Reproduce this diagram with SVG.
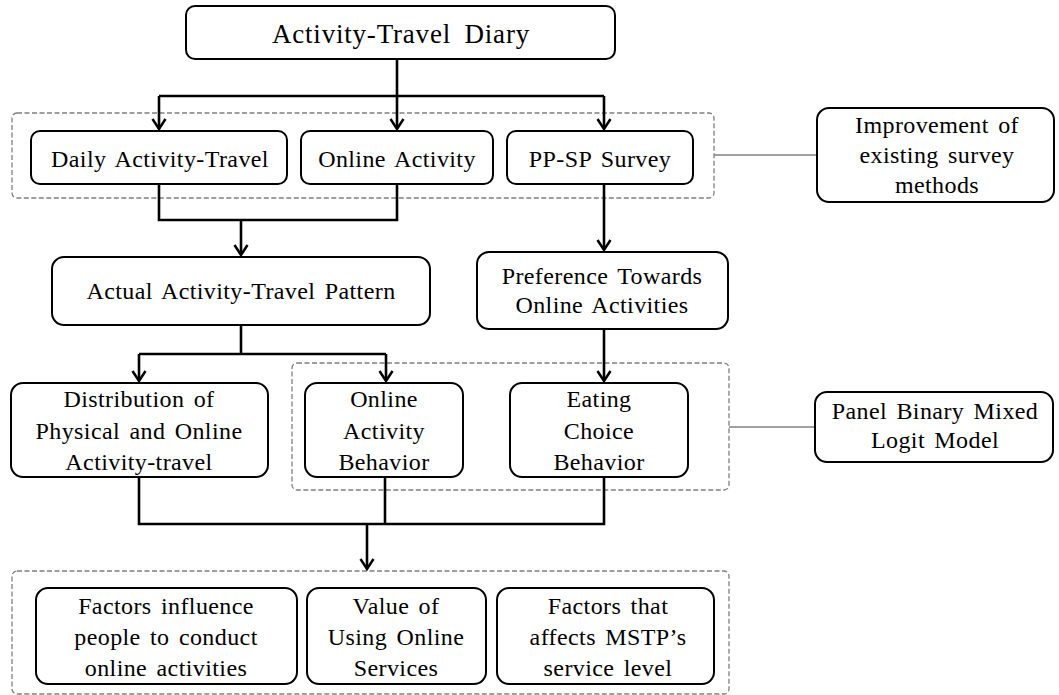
<svg xmlns="http://www.w3.org/2000/svg" width="1059" height="695" viewBox="0 0 1059 695">
  <style>
    .node { fill: #ffffff; stroke: #000000; stroke-width: 2; }
    .group { fill: none; stroke: #808080; stroke-width: 1.3; stroke-dasharray: 5 2.5; }
    .link { fill: none; stroke: #000000; stroke-width: 2.6; stroke-linejoin: miter; }
    .tie { fill: none; stroke: #808080; stroke-width: 1.5; }
    text { font-size: 24px; fill: #000000; text-anchor: middle; word-spacing: 3px; letter-spacing: 0.4px; }
    .title { font-size: 27px; word-spacing: 6px; letter-spacing: 0.8px; }
  </style>
  <defs>
    <marker id="chevron" markerUnits="userSpaceOnUse" markerWidth="20" markerHeight="20" viewBox="-12 -10 14 20" refX="0" refY="0" orient="auto">
      <path d="M-10,-6.5 L0,0 L-10,6.5" fill="none" stroke="#000000" stroke-width="2.5"/>
    </marker>
  </defs>

  <!-- dashed grouping frames -->
  <g id="frames">
    <rect class="group" x="12" y="113" width="702" height="85" rx="5"/>
    <rect class="group" x="292" y="363" width="437" height="127" rx="5"/>
    <rect class="group" x="12" y="571" width="717" height="123" rx="5"/>
  </g>

  <!-- connectors -->
  <g id="connectors">
    <path class="link" d="M397,59 V96"/>
    <path class="link" d="M159,96 H604"/>
    <path class="link" d="M159,96 V129" marker-end="url(#chevron)"/>
    <path class="link" d="M397,96 V129" marker-end="url(#chevron)"/>
    <path class="link" d="M604,96 V129" marker-end="url(#chevron)"/>

    <path class="link" d="M159,184 V220 H397 V184"/>
    <path class="link" d="M241,220 V255" marker-end="url(#chevron)"/>

    <path class="link" d="M604,184 V250" marker-end="url(#chevron)"/>

    <path class="link" d="M241,325 V354"/>
    <path class="link" d="M139,354 H386"/>
    <path class="link" d="M139,354 V381" marker-end="url(#chevron)"/>
    <path class="link" d="M386,354 V381" marker-end="url(#chevron)"/>

    <path class="link" d="M604,329 V381" marker-end="url(#chevron)"/>

    <path class="link" d="M139,477 V524 H604 V477"/>
    <path class="link" d="M385,477 V524"/>
    <path class="link" d="M367,524 V569" marker-end="url(#chevron)"/>

    <path class="tie" d="M714,155 H817"/>
    <path class="tie" d="M729,427 H815"/>
  </g>

  <g id="nodes" font-family="Liberation Serif, Times New Roman, serif">
  <g id="diary">
    <rect class="node" x="186" y="6" width="429" height="53" rx="9"/>
    <text class="title" x="401" y="43">Activity-Travel Diary</text>
  </g>

  <g id="daily-activity-travel">
    <rect class="node" x="31" y="131" width="256" height="53" rx="9"/>
    <text x="160" y="167">Daily Activity-Travel</text>
  </g>

  <g id="online-activity">
    <rect class="node" x="301" y="131" width="192" height="53" rx="9"/>
    <text x="397" y="167">Online Activity</text>
  </g>

  <g id="pp-sp-survey">
    <rect class="node" x="507" y="131" width="186" height="53" rx="9"/>
    <text x="600" y="167">PP-SP Survey</text>
  </g>

  <g id="survey-methods">
    <rect class="node" x="817" y="108" width="237" height="94" rx="12"/>
    <text x="937" y="133">Improvement of</text>
    <text x="937" y="163">existing survey</text>
    <text x="937" y="193">methods</text>
  </g>

  <g id="actual-pattern">
    <rect class="node" x="52" y="257" width="378" height="68" rx="12"/>
    <text x="241" y="299">Actual Activity-Travel Pattern</text>
  </g>

  <g id="preference">
    <rect class="node" x="477" y="252" width="251" height="77" rx="12"/>
    <text x="602" y="284">Preference Towards</text>
    <text x="602" y="313">Online Activities</text>
  </g>

  <g id="distribution">
    <rect class="node" x="11" y="383" width="257" height="94" rx="12"/>
    <text x="139" y="407">Distribution of</text>
    <text x="139" y="439">Physical and Online</text>
    <text x="139" y="470">Activity-travel</text>
  </g>

  <g id="online-behavior">
    <rect class="node" x="305" y="383" width="158" height="94" rx="12"/>
    <text x="384" y="407">Online</text>
    <text x="384" y="439">Activity</text>
    <text x="384" y="470">Behavior</text>
  </g>

  <g id="eating-behavior">
    <rect class="node" x="510" y="383" width="178" height="94" rx="12"/>
    <text x="599" y="407">Eating</text>
    <text x="599" y="439">Choice</text>
    <text x="599" y="470">Behavior</text>
  </g>

  <g id="mixed-logit">
    <rect class="node" x="815" y="392" width="238" height="70" rx="12"/>
    <text x="935" y="419">Panel Binary Mixed</text>
    <text x="935" y="448">Logit Model</text>
  </g>

  <g id="influence-factors">
    <rect class="node" x="36" y="588" width="261" height="96" rx="12"/>
    <text x="166" y="614">Factors influence</text>
    <text x="166" y="645">people to conduct</text>
    <text x="166" y="676">online activities</text>
  </g>

  <g id="service-value">
    <rect class="node" x="307" y="588" width="179" height="96" rx="12"/>
    <text x="396" y="614">Value of</text>
    <text x="396" y="645">Using Online</text>
    <text x="396" y="676">Services</text>
  </g>

  <g id="service-level">
    <rect class="node" x="497" y="588" width="217" height="96" rx="12"/>
    <text x="608" y="614">Factors that</text>
    <text x="608" y="645">affects MSTP’s</text>
    <text x="608" y="676">service level</text>
  </g>
  </g>
</svg>
